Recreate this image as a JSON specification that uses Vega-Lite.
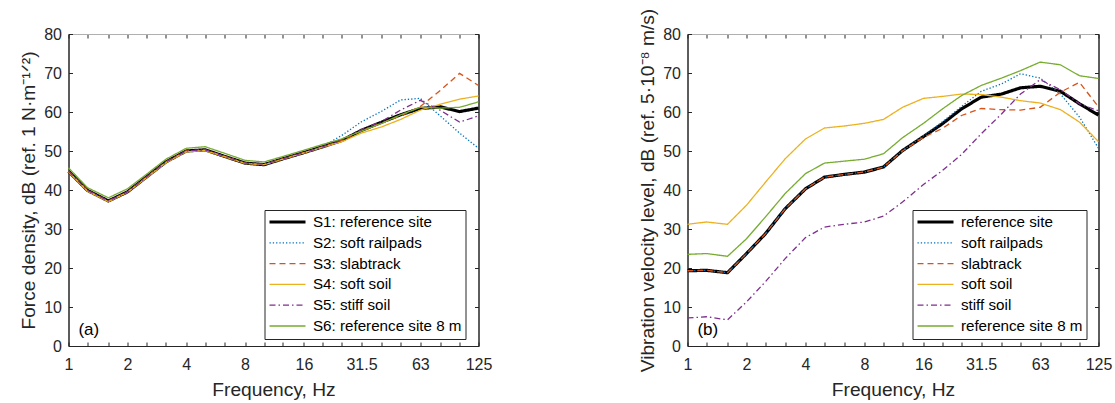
{
  "$schema": "https://vega.github.io/schema/vega-lite/v6.json",
  "padding": {"left": 18.5, "top": 7, "right": 0, "bottom": 0},
  "background": "white",
  "config": {
    "view": {"stroke": "#262626", "strokeWidth": 1},
    "font": "Liberation Sans",
    "axis": {
      "grid": false,
      "domain": true,
      "zindex": 1,
      "labelFont": "Liberation Sans",
      "titleFont": "Liberation Sans",
      "labelFontSize": 16,
      "titleFontSize": 19.2,
      "titleFontWeight": "normal",
      "labelColor": "#262626",
      "titleColor": "#262626",
      "domainColor": "#262626",
      "tickColor": "#262626",
      "tickSize": -4,
      "domainWidth": 1,
      "tickWidth": 1
    },
    "legend": {
      "orient": "none",
      "title": null,
      "symbolType": "stroke",
      "symbolSize": 1296,
      "symbolOffset": 11.4,
      "clipHeight": 16,
      "labelFont": "Liberation Sans",
      "labelFontSize": 15.2,
      "labelColor": "#000000",
      "labelLimit": 400,
      "labelOffset": 17.8,
      "rowPadding": 3.8,
      "padding": 4,
      "strokeColor": "#262626",
      "fillColor": "#ffffff",
      "symbolStrokeWidth": 1.3
    }
  },
  "datasets": {
    "a": [
      {"f":1,"v":44.8,"s":"S1: reference site"},{"f":1.25,"v":39.9,"s":"S1: reference site"},{"f":1.6,"v":37.2,"s":"S1: reference site"},{"f":2,"v":39.5,"s":"S1: reference site"},{"f":2.5,"v":43.3,"s":"S1: reference site"},{"f":3.15,"v":47.2,"s":"S1: reference site"},{"f":4,"v":50.0,"s":"S1: reference site"},{"f":5,"v":50.3,"s":"S1: reference site"},{"f":6.3,"v":48.6,"s":"S1: reference site"},{"f":8,"v":46.9,"s":"S1: reference site"},{"f":10,"v":46.5,"s":"S1: reference site"},{"f":12.5,"v":48.0,"s":"S1: reference site"},{"f":16,"v":49.6,"s":"S1: reference site"},{"f":20,"v":51.1,"s":"S1: reference site"},{"f":25,"v":52.7,"s":"S1: reference site"},{"f":31.5,"v":55.3,"s":"S1: reference site"},{"f":40,"v":57.4,"s":"S1: reference site"},{"f":50,"v":59.3,"s":"S1: reference site"},{"f":63,"v":60.9,"s":"S1: reference site"},{"f":80,"v":61.3,"s":"S1: reference site"},{"f":100,"v":60.1,"s":"S1: reference site"},{"f":125,"v":61.0,"s":"S1: reference site"},
      {"f":1,"v":44.8,"s":"S2: soft railpads"},{"f":1.25,"v":39.9,"s":"S2: soft railpads"},{"f":1.6,"v":37.2,"s":"S2: soft railpads"},{"f":2,"v":39.5,"s":"S2: soft railpads"},{"f":2.5,"v":43.3,"s":"S2: soft railpads"},{"f":3.15,"v":47.2,"s":"S2: soft railpads"},{"f":4,"v":50.0,"s":"S2: soft railpads"},{"f":5,"v":50.3,"s":"S2: soft railpads"},{"f":6.3,"v":48.6,"s":"S2: soft railpads"},{"f":8,"v":46.9,"s":"S2: soft railpads"},{"f":10,"v":46.5,"s":"S2: soft railpads"},{"f":12.5,"v":48.0,"s":"S2: soft railpads"},{"f":16,"v":49.6,"s":"S2: soft railpads"},{"f":20,"v":51.2,"s":"S2: soft railpads"},{"f":25,"v":54.0,"s":"S2: soft railpads"},{"f":31.5,"v":57.5,"s":"S2: soft railpads"},{"f":40,"v":60.2,"s":"S2: soft railpads"},{"f":50,"v":63.1,"s":"S2: soft railpads"},{"f":63,"v":63.5,"s":"S2: soft railpads"},{"f":80,"v":58.9,"s":"S2: soft railpads"},{"f":100,"v":54.6,"s":"S2: soft railpads"},{"f":125,"v":50.7,"s":"S2: soft railpads"},
      {"f":1,"v":44.8,"s":"S3: slabtrack"},{"f":1.25,"v":39.9,"s":"S3: slabtrack"},{"f":1.6,"v":37.2,"s":"S3: slabtrack"},{"f":2,"v":39.5,"s":"S3: slabtrack"},{"f":2.5,"v":43.3,"s":"S3: slabtrack"},{"f":3.15,"v":47.2,"s":"S3: slabtrack"},{"f":4,"v":50.0,"s":"S3: slabtrack"},{"f":5,"v":50.3,"s":"S3: slabtrack"},{"f":6.3,"v":48.6,"s":"S3: slabtrack"},{"f":8,"v":46.9,"s":"S3: slabtrack"},{"f":10,"v":46.5,"s":"S3: slabtrack"},{"f":12.5,"v":48.0,"s":"S3: slabtrack"},{"f":16,"v":49.6,"s":"S3: slabtrack"},{"f":20,"v":51.1,"s":"S3: slabtrack"},{"f":25,"v":52.7,"s":"S3: slabtrack"},{"f":31.5,"v":55.2,"s":"S3: slabtrack"},{"f":40,"v":57.2,"s":"S3: slabtrack"},{"f":50,"v":59.0,"s":"S3: slabtrack"},{"f":63,"v":61.4,"s":"S3: slabtrack"},{"f":80,"v":65.6,"s":"S3: slabtrack"},{"f":100,"v":69.9,"s":"S3: slabtrack"},{"f":125,"v":66.8,"s":"S3: slabtrack"},
      {"f":1,"v":44.6,"s":"S4: soft soil"},{"f":1.25,"v":39.7,"s":"S4: soft soil"},{"f":1.6,"v":37.0,"s":"S4: soft soil"},{"f":2,"v":39.4,"s":"S4: soft soil"},{"f":2.5,"v":43.1,"s":"S4: soft soil"},{"f":3.15,"v":47.0,"s":"S4: soft soil"},{"f":4,"v":49.8,"s":"S4: soft soil"},{"f":5,"v":50.1,"s":"S4: soft soil"},{"f":6.3,"v":48.5,"s":"S4: soft soil"},{"f":8,"v":46.8,"s":"S4: soft soil"},{"f":10,"v":46.5,"s":"S4: soft soil"},{"f":12.5,"v":47.9,"s":"S4: soft soil"},{"f":16,"v":49.5,"s":"S4: soft soil"},{"f":20,"v":51.0,"s":"S4: soft soil"},{"f":25,"v":52.4,"s":"S4: soft soil"},{"f":31.5,"v":54.6,"s":"S4: soft soil"},{"f":40,"v":56.2,"s":"S4: soft soil"},{"f":50,"v":58.1,"s":"S4: soft soil"},{"f":63,"v":60.5,"s":"S4: soft soil"},{"f":80,"v":62.0,"s":"S4: soft soil"},{"f":100,"v":63.3,"s":"S4: soft soil"},{"f":125,"v":64.1,"s":"S4: soft soil"},
      {"f":1,"v":44.8,"s":"S5: stiff soil"},{"f":1.25,"v":39.9,"s":"S5: stiff soil"},{"f":1.6,"v":37.2,"s":"S5: stiff soil"},{"f":2,"v":39.5,"s":"S5: stiff soil"},{"f":2.5,"v":43.3,"s":"S5: stiff soil"},{"f":3.15,"v":47.2,"s":"S5: stiff soil"},{"f":4,"v":50.0,"s":"S5: stiff soil"},{"f":5,"v":50.3,"s":"S5: stiff soil"},{"f":6.3,"v":48.6,"s":"S5: stiff soil"},{"f":8,"v":46.9,"s":"S5: stiff soil"},{"f":10,"v":46.6,"s":"S5: stiff soil"},{"f":12.5,"v":48.0,"s":"S5: stiff soil"},{"f":16,"v":49.6,"s":"S5: stiff soil"},{"f":20,"v":51.1,"s":"S5: stiff soil"},{"f":25,"v":52.8,"s":"S5: stiff soil"},{"f":31.5,"v":55.5,"s":"S5: stiff soil"},{"f":40,"v":57.6,"s":"S5: stiff soil"},{"f":50,"v":60.5,"s":"S5: stiff soil"},{"f":63,"v":63.0,"s":"S5: stiff soil"},{"f":80,"v":60.4,"s":"S5: stiff soil"},{"f":100,"v":57.4,"s":"S5: stiff soil"},{"f":125,"v":59.0,"s":"S5: stiff soil"},
      {"f":1,"v":45.7,"s":"S6: reference site 8 m"},{"f":1.25,"v":40.6,"s":"S6: reference site 8 m"},{"f":1.6,"v":38.0,"s":"S6: reference site 8 m"},{"f":2,"v":40.3,"s":"S6: reference site 8 m"},{"f":2.5,"v":44.0,"s":"S6: reference site 8 m"},{"f":3.15,"v":47.9,"s":"S6: reference site 8 m"},{"f":4,"v":50.7,"s":"S6: reference site 8 m"},{"f":5,"v":51.1,"s":"S6: reference site 8 m"},{"f":6.3,"v":49.4,"s":"S6: reference site 8 m"},{"f":8,"v":47.6,"s":"S6: reference site 8 m"},{"f":10,"v":47.2,"s":"S6: reference site 8 m"},{"f":12.5,"v":48.6,"s":"S6: reference site 8 m"},{"f":16,"v":50.2,"s":"S6: reference site 8 m"},{"f":20,"v":51.7,"s":"S6: reference site 8 m"},{"f":25,"v":53.1,"s":"S6: reference site 8 m"},{"f":31.5,"v":55.1,"s":"S6: reference site 8 m"},{"f":40,"v":57.1,"s":"S6: reference site 8 m"},{"f":50,"v":59.3,"s":"S6: reference site 8 m"},{"f":63,"v":61.2,"s":"S6: reference site 8 m"},{"f":80,"v":61.0,"s":"S6: reference site 8 m"},{"f":100,"v":61.2,"s":"S6: reference site 8 m"},{"f":125,"v":62.6,"s":"S6: reference site 8 m"}
    ],
    "b": [
      {"f":1,"v":19.3,"s":"S1: reference site"},{"f":1.25,"v":19.4,"s":"S1: reference site"},{"f":1.6,"v":18.8,"s":"S1: reference site"},{"f":2,"v":23.7,"s":"S1: reference site"},{"f":2.5,"v":28.8,"s":"S1: reference site"},{"f":3.15,"v":35.2,"s":"S1: reference site"},{"f":4,"v":40.3,"s":"S1: reference site"},{"f":5,"v":43.3,"s":"S1: reference site"},{"f":6.3,"v":44.0,"s":"S1: reference site"},{"f":8,"v":44.6,"s":"S1: reference site"},{"f":10,"v":45.9,"s":"S1: reference site"},{"f":12.5,"v":50.1,"s":"S1: reference site"},{"f":16,"v":53.7,"s":"S1: reference site"},{"f":20,"v":57.0,"s":"S1: reference site"},{"f":25,"v":60.8,"s":"S1: reference site"},{"f":31.5,"v":63.8,"s":"S1: reference site"},{"f":40,"v":64.6,"s":"S1: reference site"},{"f":50,"v":66.2,"s":"S1: reference site"},{"f":63,"v":66.6,"s":"S1: reference site"},{"f":80,"v":65.3,"s":"S1: reference site"},{"f":100,"v":62.1,"s":"S1: reference site"},{"f":125,"v":59.2,"s":"S1: reference site"},
      {"f":1,"v":19.3,"s":"S2: soft railpads"},{"f":1.25,"v":19.4,"s":"S2: soft railpads"},{"f":1.6,"v":18.8,"s":"S2: soft railpads"},{"f":2,"v":23.7,"s":"S2: soft railpads"},{"f":2.5,"v":28.8,"s":"S2: soft railpads"},{"f":3.15,"v":35.2,"s":"S2: soft railpads"},{"f":4,"v":40.3,"s":"S2: soft railpads"},{"f":5,"v":43.3,"s":"S2: soft railpads"},{"f":6.3,"v":44.0,"s":"S2: soft railpads"},{"f":8,"v":44.6,"s":"S2: soft railpads"},{"f":10,"v":45.9,"s":"S2: soft railpads"},{"f":12.5,"v":50.1,"s":"S2: soft railpads"},{"f":16,"v":53.9,"s":"S2: soft railpads"},{"f":20,"v":57.5,"s":"S2: soft railpads"},{"f":25,"v":61.4,"s":"S2: soft railpads"},{"f":31.5,"v":65.3,"s":"S2: soft railpads"},{"f":40,"v":67.2,"s":"S2: soft railpads"},{"f":50,"v":69.8,"s":"S2: soft railpads"},{"f":63,"v":68.7,"s":"S2: soft railpads"},{"f":80,"v":64.6,"s":"S2: soft railpads"},{"f":100,"v":58.7,"s":"S2: soft railpads"},{"f":125,"v":50.7,"s":"S2: soft railpads"},
      {"f":1,"v":19.3,"s":"S3: slabtrack"},{"f":1.25,"v":19.4,"s":"S3: slabtrack"},{"f":1.6,"v":18.8,"s":"S3: slabtrack"},{"f":2,"v":23.7,"s":"S3: slabtrack"},{"f":2.5,"v":28.8,"s":"S3: slabtrack"},{"f":3.15,"v":35.2,"s":"S3: slabtrack"},{"f":4,"v":40.3,"s":"S3: slabtrack"},{"f":5,"v":43.3,"s":"S3: slabtrack"},{"f":6.3,"v":44.0,"s":"S3: slabtrack"},{"f":8,"v":44.6,"s":"S3: slabtrack"},{"f":10,"v":45.9,"s":"S3: slabtrack"},{"f":12.5,"v":50.0,"s":"S3: slabtrack"},{"f":16,"v":53.5,"s":"S3: slabtrack"},{"f":20,"v":55.8,"s":"S3: slabtrack"},{"f":25,"v":59.1,"s":"S3: slabtrack"},{"f":31.5,"v":60.9,"s":"S3: slabtrack"},{"f":40,"v":60.6,"s":"S3: slabtrack"},{"f":50,"v":60.5,"s":"S3: slabtrack"},{"f":63,"v":61.2,"s":"S3: slabtrack"},{"f":80,"v":65.1,"s":"S3: slabtrack"},{"f":100,"v":67.6,"s":"S3: slabtrack"},{"f":125,"v":61.3,"s":"S3: slabtrack"},
      {"f":1,"v":31.2,"s":"S4: soft soil"},{"f":1.25,"v":31.8,"s":"S4: soft soil"},{"f":1.6,"v":31.2,"s":"S4: soft soil"},{"f":2,"v":36.1,"s":"S4: soft soil"},{"f":2.5,"v":42.0,"s":"S4: soft soil"},{"f":3.15,"v":48.0,"s":"S4: soft soil"},{"f":4,"v":53.1,"s":"S4: soft soil"},{"f":5,"v":55.9,"s":"S4: soft soil"},{"f":6.3,"v":56.4,"s":"S4: soft soil"},{"f":8,"v":57.1,"s":"S4: soft soil"},{"f":10,"v":58.1,"s":"S4: soft soil"},{"f":12.5,"v":61.2,"s":"S4: soft soil"},{"f":16,"v":63.5,"s":"S4: soft soil"},{"f":20,"v":64.0,"s":"S4: soft soil"},{"f":25,"v":64.6,"s":"S4: soft soil"},{"f":31.5,"v":64.5,"s":"S4: soft soil"},{"f":40,"v":63.8,"s":"S4: soft soil"},{"f":50,"v":62.9,"s":"S4: soft soil"},{"f":63,"v":62.3,"s":"S4: soft soil"},{"f":80,"v":60.6,"s":"S4: soft soil"},{"f":100,"v":57.4,"s":"S4: soft soil"},{"f":125,"v":52.4,"s":"S4: soft soil"},
      {"f":1,"v":7.2,"s":"S5: stiff soil"},{"f":1.25,"v":7.5,"s":"S5: stiff soil"},{"f":1.6,"v":6.7,"s":"S5: stiff soil"},{"f":2,"v":11.3,"s":"S5: stiff soil"},{"f":2.5,"v":16.5,"s":"S5: stiff soil"},{"f":3.15,"v":22.4,"s":"S5: stiff soil"},{"f":4,"v":27.8,"s":"S5: stiff soil"},{"f":5,"v":30.5,"s":"S5: stiff soil"},{"f":6.3,"v":31.2,"s":"S5: stiff soil"},{"f":8,"v":31.8,"s":"S5: stiff soil"},{"f":10,"v":33.3,"s":"S5: stiff soil"},{"f":12.5,"v":36.9,"s":"S5: stiff soil"},{"f":16,"v":41.4,"s":"S5: stiff soil"},{"f":20,"v":45.0,"s":"S5: stiff soil"},{"f":25,"v":49.1,"s":"S5: stiff soil"},{"f":31.5,"v":54.4,"s":"S5: stiff soil"},{"f":40,"v":59.5,"s":"S5: stiff soil"},{"f":50,"v":64.6,"s":"S5: stiff soil"},{"f":63,"v":68.3,"s":"S5: stiff soil"},{"f":80,"v":65.7,"s":"S5: stiff soil"},{"f":100,"v":62.1,"s":"S5: stiff soil"},{"f":125,"v":60.3,"s":"S5: stiff soil"},
      {"f":1,"v":23.5,"s":"S6: reference site 8 m"},{"f":1.25,"v":23.7,"s":"S6: reference site 8 m"},{"f":1.6,"v":23.0,"s":"S6: reference site 8 m"},{"f":2,"v":27.5,"s":"S6: reference site 8 m"},{"f":2.5,"v":33.1,"s":"S6: reference site 8 m"},{"f":3.15,"v":39.1,"s":"S6: reference site 8 m"},{"f":4,"v":44.2,"s":"S6: reference site 8 m"},{"f":5,"v":46.9,"s":"S6: reference site 8 m"},{"f":6.3,"v":47.4,"s":"S6: reference site 8 m"},{"f":8,"v":47.9,"s":"S6: reference site 8 m"},{"f":10,"v":49.3,"s":"S6: reference site 8 m"},{"f":12.5,"v":53.4,"s":"S6: reference site 8 m"},{"f":16,"v":57.1,"s":"S6: reference site 8 m"},{"f":20,"v":60.8,"s":"S6: reference site 8 m"},{"f":25,"v":64.2,"s":"S6: reference site 8 m"},{"f":31.5,"v":66.8,"s":"S6: reference site 8 m"},{"f":40,"v":68.7,"s":"S6: reference site 8 m"},{"f":50,"v":70.6,"s":"S6: reference site 8 m"},{"f":63,"v":72.8,"s":"S6: reference site 8 m"},{"f":80,"v":72.1,"s":"S6: reference site 8 m"},{"f":100,"v":69.3,"s":"S6: reference site 8 m"},{"f":125,"v":68.6,"s":"S6: reference site 8 m"}
    ],
    "labA": [{"f": 1.27, "v": 4.1, "t": "(a)"}],
    "labB": [{"f": 1.27, "v": 4.1, "t": "(b)"}]
  },
  "hconcat": [
    {
      "width": 410,
      "height": 312,
      "layer": [
        {
          "data": {"name": "a"},
          "mark": {"type": "line"},
          "encoding": {
            "x": {"field": "f", "type": "quantitative", "scale": {"type": "log", "domain": [1, 125], "nice": false},
              "axis": {"orient": "bottom", "title": "Frequency, Hz", "values": [1,1.25,1.6,2,2.5,3.15,4,5,6.3,8,10,12.5,16,20,25,31.5,40,50,63,80,100,125],
                "labelExpr": "indexof([1,2,4,8,16,31.5,63,125], datum.value) >= 0 ? '' + datum.value : ''",
                "labelOverlap": false, "labelFlush": false, "labelBound": false, "labelPadding": 14, "titlePadding": 8}},
            "y": {"field": "v", "type": "quantitative", "scale": {"domain": [0, 80], "nice": false},
              "axis": {"orient": "left", "title": "Force density, dB (ref. 1 N·m⁻¹ᐟ²)", "values": [0,10,20,30,40,50,60,70,80],
                "labelPadding": 11, "titlePadding": 5}},
            "color": {"field": "s", "type": "nominal",
              "scale": {"domain": ["S1: reference site","S2: soft railpads","S3: slabtrack","S4: soft soil","S5: stiff soil","S6: reference site 8 m"],
                        "range": ["#000000","#0072BD","#D95319","#EDB120","#7E2F8E","#77AC30"]},
              "legend": {"legendX": 196, "legendY": 176, "strokeColor": "#262626",
                "encode": {"legend": {"update": {"stroke": {"value": "#262626"}, "strokeWidth": {"value": 1}}},
                           "symbols": {"update": {"strokeWidth": {"signal": "datum.value === 'S1: reference site' ? 3.2 : 1.3"}}}}}},
            "strokeDash": {"field": "s", "type": "nominal",
              "scale": {"domain": ["S1: reference site","S2: soft railpads","S3: slabtrack","S4: soft soil","S5: stiff soil","S6: reference site 8 m"],
                        "range": [[1,0],[1.3,2],[6,4],[1,0],[6,3,1.5,3],[1,0]]},
              "legend": {"legendX": 196, "legendY": 176, "strokeColor": "#262626",
                "encode": {"legend": {"update": {"stroke": {"value": "#262626"}, "strokeWidth": {"value": 1}}},
                           "symbols": {"update": {"strokeWidth": {"signal": "datum.value === 'S1: reference site' ? 3.2 : 1.3"}}}}}},
            "strokeWidth": {"condition": {"test": "datum.s === 'S1: reference site'", "value": 3.2}, "value": 1.3}
          }
        },
        {
          "data": {"name": "a"},
          "mark": {"type": "line", "opacity": 0},
          "encoding": {
            "x": {"field": "f", "type": "quantitative", "axis": {"orient": "top", "title": null, "labels": false, "domainColor": "#b0b0b0", "values": [1,1.25,1.6,2,2.5,3.15,4,5,6.3,8,10,12.5,16,20,25,31.5,40,50,63,80,100,125]}},
            "y": {"field": "v", "type": "quantitative", "axis": {"orient": "right", "title": null, "labels": false, "values": [0,10,20,30,40,50,60,70,80]}}
          }
        },
        {
          "data": {"name": "labA"},
          "mark": {"type": "text", "fontSize": 17, "font": "Liberation Sans", "color": "#000000", "align": "center", "baseline": "middle"},
          "encoding": {
            "x": {"field": "f", "type": "quantitative", "axis": null},
            "y": {"field": "v", "type": "quantitative", "axis": null},
            "text": {"field": "t"}
          }
        }
      ],
      "resolve": {"axis": {"x": "independent", "y": "independent"}}
    },
    {
      "width": 411,
      "height": 312,
      "layer": [
        {
          "data": {"name": "b"},
          "mark": {"type": "line"},
          "encoding": {
            "x": {"field": "f", "type": "quantitative", "scale": {"type": "log", "domain": [1, 125], "nice": false},
              "axis": {"orient": "bottom", "title": "Frequency, Hz", "values": [1,1.25,1.6,2,2.5,3.15,4,5,6.3,8,10,12.5,16,20,25,31.5,40,50,63,80,100,125],
                "labelExpr": "indexof([1,2,4,8,16,31.5,63,125], datum.value) >= 0 ? '' + datum.value : ''",
                "labelOverlap": false, "labelFlush": false, "labelBound": false, "labelPadding": 14, "titlePadding": 8}},
            "y": {"field": "v", "type": "quantitative", "scale": {"domain": [0, 80], "nice": false},
              "axis": {"orient": "left", "title": "Vibration velocity level, dB (ref. 5·10⁻⁸ m/s)", "values": [0,10,20,30,40,50,60,70,80],
                "labelPadding": 11, "titlePadding": 5}},
            "color": {"field": "s", "type": "nominal",
              "scale": {"domain": ["S1: reference site","S2: soft railpads","S3: slabtrack","S4: soft soil","S5: stiff soil","S6: reference site 8 m"],
                        "range": ["#000000","#0072BD","#D95319","#EDB120","#7E2F8E","#77AC30"]},
              "legend": {"legendX": 225, "legendY": 176, "strokeColor": "#262626", "labelExpr": "slice(datum.label, 4)",
                "encode": {"legend": {"update": {"stroke": {"value": "#262626"}, "strokeWidth": {"value": 1}}},
                           "symbols": {"update": {"strokeWidth": {"signal": "datum.value === 'S1: reference site' ? 3.2 : 1.3"}}}}}},
            "strokeDash": {"field": "s", "type": "nominal",
              "scale": {"domain": ["S1: reference site","S2: soft railpads","S3: slabtrack","S4: soft soil","S5: stiff soil","S6: reference site 8 m"],
                        "range": [[1,0],[1.3,2],[6,4],[1,0],[6,3,1.5,3],[1,0]]},
              "legend": {"legendX": 225, "legendY": 176, "strokeColor": "#262626", "labelExpr": "slice(datum.label, 4)",
                "encode": {"legend": {"update": {"stroke": {"value": "#262626"}, "strokeWidth": {"value": 1}}},
                           "symbols": {"update": {"strokeWidth": {"signal": "datum.value === 'S1: reference site' ? 3.2 : 1.3"}}}}}},
            "strokeWidth": {"condition": {"test": "datum.s === 'S1: reference site'", "value": 3.2}, "value": 1.3}
          }
        },
        {
          "data": {"name": "b"},
          "mark": {"type": "line", "opacity": 0},
          "encoding": {
            "x": {"field": "f", "type": "quantitative", "axis": {"orient": "top", "title": null, "labels": false, "domainColor": "#b0b0b0", "values": [1,1.25,1.6,2,2.5,3.15,4,5,6.3,8,10,12.5,16,20,25,31.5,40,50,63,80,100,125]}},
            "y": {"field": "v", "type": "quantitative", "axis": {"orient": "right", "title": null, "labels": false, "values": [0,10,20,30,40,50,60,70,80]}}
          }
        },
        {
          "data": {"name": "labB"},
          "mark": {"type": "text", "fontSize": 17, "font": "Liberation Sans", "color": "#000000", "align": "center", "baseline": "middle"},
          "encoding": {
            "x": {"field": "f", "type": "quantitative", "axis": null},
            "y": {"field": "v", "type": "quantitative", "axis": null},
            "text": {"field": "t"}
          }
        }
      ],
      "resolve": {"axis": {"x": "independent", "y": "independent"}}
    }
  ],
  "spacing": 209,
  "bounds": "flush",
  "resolve": {"scale": {"x": "independent", "y": "independent", "color": "independent", "strokeDash": "independent"}, "legend": {"color": "independent", "strokeDash": "independent"}}
}
